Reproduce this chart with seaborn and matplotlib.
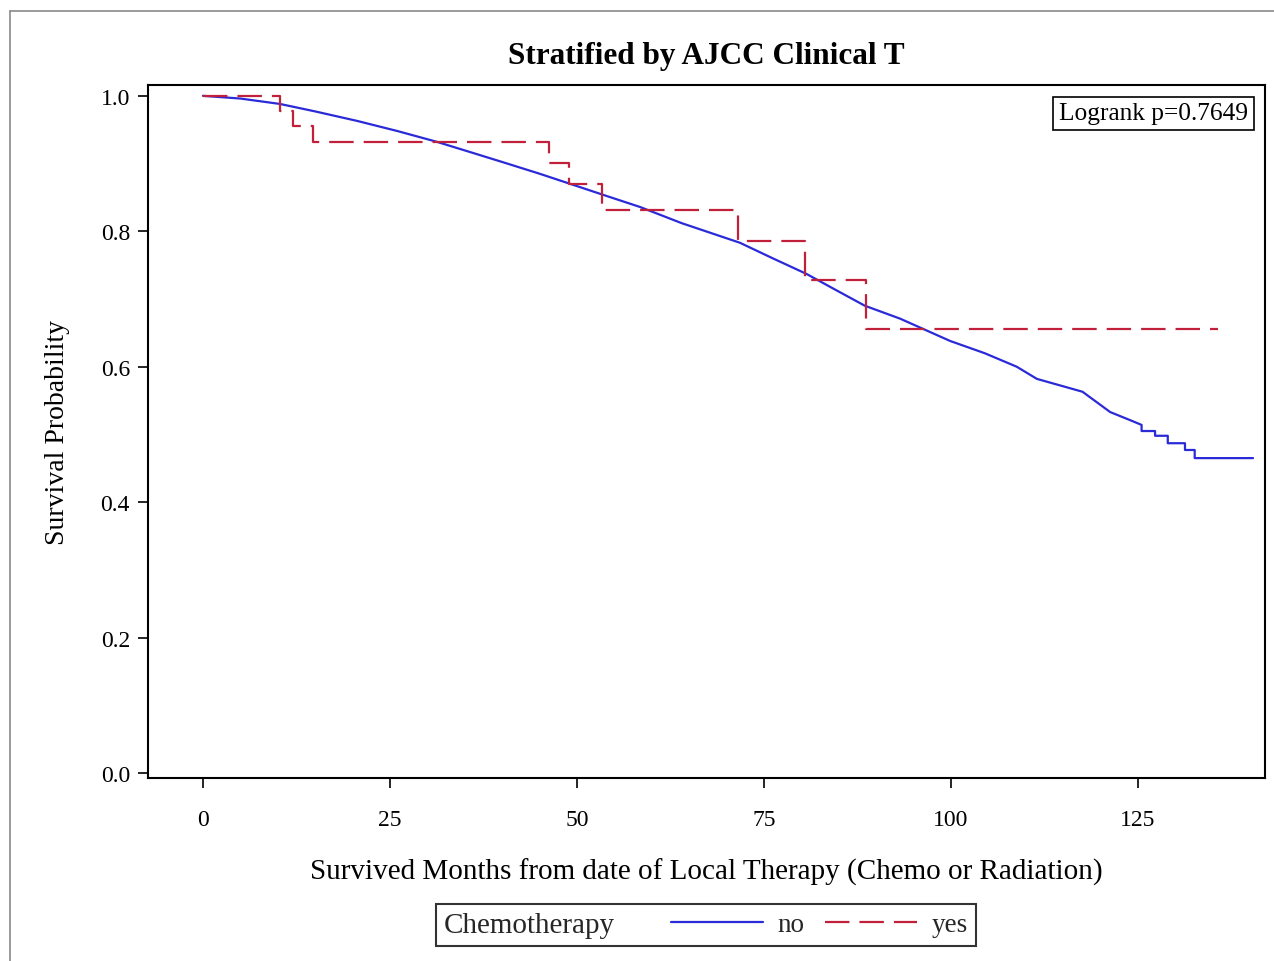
import numpy as np
import pandas as pd
import matplotlib
matplotlib.use("Agg")
import matplotlib.pyplot as plt
import seaborn as sns
from matplotlib.lines import Line2D
from matplotlib.offsetbox import HPacker

# ---- data ----
no_months = [0, 5.0, 10.3, 15.0, 20.6, 26.0, 31.3, 36.0, 40.1, 45.0, 49.1, 54.0, 58.4,
             64.0, 71.8, 76.0, 80.7, 84.5, 88.5, 93.2,
             99.9, 104.5, 108.8, 111.5, 117.6, 121.3, 124.2, 125.5, 125.5, 127.3,
             127.3, 129.0, 129.0, 131.3, 131.3, 132.6, 132.6, 140.4]
no_surv = [1.0, 0.996, 0.988, 0.977, 0.963, 0.948, 0.932, 0.916, 0.902, 0.885, 0.870, 0.852, 0.836,
           0.812, 0.783, 0.761, 0.737, 0.714, 0.690, 0.671,
           0.638, 0.620, 0.600, 0.582, 0.563, 0.533, 0.520, 0.514, 0.505, 0.505,
           0.498, 0.498, 0.487, 0.487, 0.477, 0.477, 0.465, 0.465]

yes_months = [0, 10.3, 12.0, 14.7, 46.3, 48.9, 53.3, 71.5, 80.5, 88.6, 135.7]
yes_surv = [1.0, 0.978, 0.956, 0.932, 0.901, 0.870, 0.832, 0.786, 0.728, 0.656, 0.656]

x_ticks = [0, 25, 50, 75, 100, 125]
y_ticks = [0.0, 0.2, 0.4, 0.6, 0.8, 1.0]

title = "Stratified by AJCC Clinical T"
x_label = "Survived Months from date of Local Therapy (Chemo or Radiation)"
y_label = "Survival Probability"
logrank_text = "Logrank p=0.7649"
group_title = "Chemotherapy"
group_labels = ["no", "yes"]

BLUE = "#2a2ad8"
RED = "#c0203a"
DASH = (0, (11, 4.5))

sns.set_theme(style="white")
plt.rcParams["font.family"] = ["Liberation Serif", "DejaVu Serif"]

fig = plt.figure(figsize=(12.74, 9.62), dpi=100)
ax = fig.add_axes([148 / 1274, 1 - 779 / 962, (1265 - 148) / 1274, (779 - 86) / 962])

df_no = pd.DataFrame({"t": no_months, "s": no_surv})
df_yes = pd.DataFrame({"t": yes_months, "s": yes_surv})

sns.lineplot(data=df_no, x="t", y="s", ax=ax, color=BLUE, lw=1.6,
             estimator=None, sort=False)
sns.lineplot(data=df_yes, x="t", y="s", ax=ax, color=RED, lw=1.6,
             estimator=None, sort=False, drawstyle="steps-post")
ax.lines[-1].set_linestyle(DASH)

ax.set_xlim(-7.35, 142.0)
ax.set_ylim(-0.0074, 1.016)
ax.set_xticks(x_ticks)
ax.set_xticklabels([str(v) for v in x_ticks])
ax.set_yticks(y_ticks)
ax.set_yticklabels([f"{v:.1f}" for v in y_ticks])
ax.tick_params(axis="both", direction="out", length=7, width=1.2, colors="black",
               labelsize=17, left=True, bottom=True)
ax.tick_params(axis="x", pad=15)
ax.tick_params(axis="y", pad=6)
for sp in ax.spines.values():
    sp.set_color("black")
    sp.set_linewidth(1.5)

ax.set_xlabel(x_label, fontsize=21, color="black", labelpad=20)
ax.set_ylabel(y_label, fontsize=20, color="black", labelpad=22)
ax.set_title(title, fontsize=22.5, fontweight="bold", color="black", pad=16)

ax.text(0.9848, 0.975, logrank_text, transform=ax.transAxes, ha="right", va="top",
        fontsize=18.3, color="black",
        bbox=dict(boxstyle="square,pad=0.22", fc="white", ec="black", lw=1.2))

handles = [Line2D([], [], color=BLUE, lw=1.6),
           Line2D([], [], color=RED, lw=1.6, linestyle=DASH)]
leg = fig.legend(handles, group_labels, title=group_title, ncol=2,
                 loc="center", bbox_to_anchor=(706 / 1274, 1 - 926 / 962),
                 fontsize=19.5, title_fontsize=21, frameon=True, fancybox=False,
                 edgecolor="black", handlelength=3.4, handletextpad=0.55,
                 columnspacing=0.75, borderpad=0.28)
leg.get_frame().set_linewidth(1.5)
old = leg._legend_box
new = HPacker(pad=old.pad, sep=40, align="center", children=old.get_children())
new.set_figure(fig)
new.axes = leg.axes
new.set_offset(leg._findoffset)
leg._legend_box = new

# outer gray frame
fig.add_artist(Line2D([10 / 1274, 10 / 1274], [0, 1 - 12 / 962], transform=fig.transFigure,
                      color="#8a8a8a", lw=1.2))
fig.add_artist(Line2D([10 / 1274, 1], [1 - 12 / 962, 1 - 12 / 962], transform=fig.transFigure,
                      color="#8a8a8a", lw=1.2))

fig.savefig("out.png", dpi=100, facecolor="white")
